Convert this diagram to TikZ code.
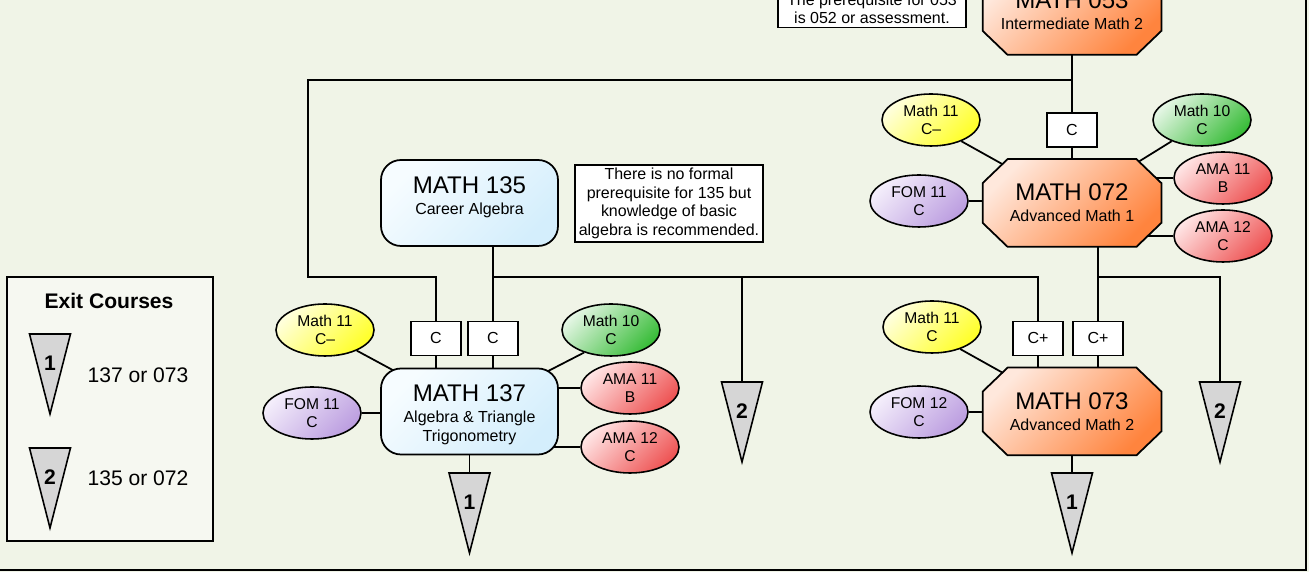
\documentclass[tikz,border=0pt]{standalone}
\usepackage{fontspec}
\setmainfont{Liberation Sans}
\usetikzlibrary{shapes.geometric,calc}
\definecolor{paper}{RGB}{240,244,231}
\definecolor{keyfill}{RGB}{246,248,241}
\definecolor{blueA}{RGB}{246,252,255}
\definecolor{blueB}{RGB}{212,238,252}
\definecolor{orangeA}{RGB}{255,232,220}
\definecolor{orangeB}{RGB}{255,132,62}
\definecolor{yelA}{RGB}{255,255,220}
\definecolor{yelB}{RGB}{255,255,40}
\definecolor{grnA}{RGB}{228,246,228}
\definecolor{grnB}{RGB}{56,188,56}
\definecolor{redA}{RGB}{255,228,228}
\definecolor{redB}{RGB}{238,84,84}
\definecolor{purA}{RGB}{244,238,251}
\definecolor{purB}{RGB}{188,158,224}
\definecolor{exitgray}{RGB}{214,214,214}
\newcommand{\fbig}{\fontsize{13.7}{15}\selectfont}
\newcommand{\fsml}{\fontsize{9.1}{10.8}\selectfont}
\newcommand{\fnote}{\fontsize{9.1}{10.5}\selectfont}
\newcommand{\fell}{\fontsize{8.9}{10.6}\selectfont}
\newcommand{\fkey}{\fontsize{12}{14}\selectfont}
% exit marker: name, top point, number
\newcommand{\exitmark}[3]{%
  \coordinate (#1) at (#2);
  \draw[exitfill] ($(#1)+(-0.41,0)$) -- ($(#1)+(0.41,0)$) -- ($(#1)+(0,-1.6)$) -- cycle;
  \node[exitnum] (#1n) at ($(#1)+(0,-0.58)$) {#3};
}
% octagon outline behind an advanced course node
\newcommand{\octo}[1]{%
  \begin{pgfonlayer}{shapes}
  \draw[advfill] ($(#1.north west)+(0.5,0)$) -- ($(#1.north east)+(-0.5,0)$)
    -- ($(#1.north east)+(0,-0.48)$) -- ($(#1.south east)+(0,0.48)$)
    -- ($(#1.south east)+(-0.5,0)$) -- ($(#1.south west)+(0.5,0)$)
    -- ($(#1.south west)+(0,0.48)$) -- ($(#1.north west)+(0,-0.48)$) -- cycle;
  \end{pgfonlayer}}
\pgfdeclarelayer{paper}
\pgfdeclarelayer{wires}
\pgfdeclarelayer{shapes}
\pgfsetlayers{paper,wires,shapes,main}

\begin{document}
\begin{tikzpicture}[
    wire/.style={line width=1pt},
    course/.style={draw, line width=1pt, minimum width=3.54cm, minimum height=1.72cm, align=center, inner sep=0pt, font=\fsml},
    algbox/.style={course, rounded corners=0.4cm, top color=blueA, bottom color=blueB, shading angle=45},
    advbox/.style={course, draw=none},
    advfill/.style={draw, line width=1pt, top color=orangeA, bottom color=orangeB, shading angle=45},
    prereq/.style={ellipse, draw, line width=0.9pt, minimum width=1.96cm, minimum height=1.04cm, inner sep=0pt, align=center, font=\fell},
    pyel/.style={prereq, top color=yelA, bottom color=yelB, shading angle=45},
    pgrn/.style={prereq, top color=grnA, bottom color=grnB, shading angle=45},
    pred/.style={prereq, top color=redA, bottom color=redB, shading angle=45},
    ppur/.style={prereq, top color=purA, bottom color=purB, shading angle=45},
    grade/.style={draw, fill=white, line width=0.9pt, minimum width=1.0cm, minimum height=0.68cm, inner sep=0pt, font=\fsml},
    note/.style={draw, fill=white, line width=0.9pt, align=center, minimum width=3.76cm, inner sep=2pt, font=\fnote},
    exitfill/.style={draw, fill=exitgray, line width=0.9pt},
    exitnum/.style={font=\fkey\bfseries},
]
\useasboundingbox (0,0) rectangle (26.18,11.44);
\begin{pgfonlayer}{paper}
\fill[paper] (0,0) rectangle (26.18,11.44);
\draw[line width=1.1pt] (-1,0.04) rectangle (26.12,12.5);
\end{pgfonlayer}

% --- Upper right: 053 and 072 ---
\node[note] (pre053) at (17.44,11.26) {The prerequisite for 053\\is 052 or assessment.};
\node[advbox] (m053) at (21.44,11.22) {{\fbig MATH 053}\\[1pt]Intermediate Math 2};
\octo{m053}
\node[grade] (g72) at (21.44,8.84) {C};
\node[advbox] (m072) at (21.44,7.38) {{\fbig MATH 072}\\[1pt]Advanced Math 1};
\octo{m072}
\node[pyel] (e72a) at (18.62,9.04) {Math 11\\C–};
\node[ppur] (e72b) at (18.38,7.42) {FOM 11\\C};
\node[pgrn] (e72c) at (24.04,9.04) {Math 10\\C};
\node[pred] (e72d) at (24.46,7.88) {AMA 11\\B};
\node[pred] (e72e) at (24.46,6.72) {AMA 12\\C};

% --- Middle: 135 ---
\node[algbox] (m135) at (9.39,7.38) {{\fbig MATH 135}\\[1pt]Career Algebra\rule[-8pt]{0pt}{8pt}};
\node[note] (pre135) at (13.38,7.37) {There is no formal\\prerequisite for 135 but\\knowledge of basic\\algebra is recommended.};

% --- Lower left: 137 ---
\node[grade] (g37a) at (8.72,4.67) {C};
\node[grade] (g37b) at (9.86,4.67) {C};
\node[algbox] (m137) at (9.39,3.21) {{\fbig\rule{0pt}{13.5pt}MATH 137}\\[1pt]Algebra \& Triangle\\[0.5pt]Trigonometry};
\node[pyel] (e37a) at (6.50,4.84) {Math 11\\C–};
\node[ppur] (e37b) at (6.24,3.18) {FOM 11\\C};
\node[pgrn] (e37c) at (12.22,4.84) {Math 10\\C};
\node[pred] (e37d) at (12.60,3.68) {AMA 11\\B};
\node[pred] (e37e) at (12.60,2.50) {AMA 12\\C};

% --- Lower right: 073 ---
\node[grade] (g73a) at (20.76,4.67) {C+};
\node[grade] (g73b) at (21.96,4.67) {C+};
\node[advbox] (m073) at (21.44,3.21) {{\fbig MATH 073}\\[1pt]Advanced Math 2};
\octo{m073}
\node[pyel] (e73a) at (18.64,4.90) {Math 11\\C};
\node[ppur] (e73b) at (18.38,3.20) {FOM 12\\C};

% --- Exit markers ---
\exitmark{t37}{9.39,1.98}{1}
\exitmark{t73}{21.44,1.98}{1}
\exitmark{t35}{14.84,3.80}{2}
\exitmark{t72}{24.40,3.80}{2}

% --- Legend ---
\node[draw, fill=keyfill, line width=0.9pt, minimum width=4.12cm, minimum height=5.28cm] (key) at (2.20,3.26) {};
\node[font=\fkey\bfseries] (keyhead) at (2.18,5.42) {Exit Courses};
\exitmark{k1}{1.00,4.76}{1}
\node[font=\fkey] (k1txt) at (2.76,3.94) {137 or 073};
\exitmark{k2}{1.00,2.48}{2}
\node[font=\fkey] (k2txt) at (2.76,1.88) {135 or 072};

% --- Connectors ---
\coordinate (jTop) at (21.44,9.84);
\coordinate (jLeft) at (6.16,5.90);
\coordinate (jMid) at (9.86,5.90);
\coordinate (jRight) at (21.96,5.90);
\begin{pgfonlayer}{wires}
\draw[wire] (m053) -- (g72) -- (m072);
\draw[wire] (jTop) -| (jLeft) -| (g37a);
\draw[wire] (g37a) -- (g37a |- m137.center);
\draw[wire] (g37b |- m135.center) -- (g37b |- m137.center);
\draw[wire] (jMid) -| (g73a);
\draw[wire] (jMid -| t35) -- (t35);
\draw[wire] (g73a) -- (g73a |- m073.center);
\draw[wire] (g73b |- m072.center) -- (g73b |- m073.center);
\draw[wire] (jRight) -| (t72);
\draw[wire] (t37 |- m137.center) -- (t37);
\draw[wire] (t73 |- m073.center) -- (t73);
% prerequisites
\draw[wire] (e72a.-35) -- (m072.center);
\draw[wire] (e72b) -- (e72b -| m072.center);
\draw[wire] (e72c.215) -- (m072.center);
\draw[wire] (e72d) -- (e72d -| m072.center);
\draw[wire] (e72e) -- (e72e -| m072.center);
\draw[wire] (e37a.-33) -- (m137.center);
\draw[wire] (e37b) -- (e37b -| m137.center);
\draw[wire] (e37c.220) -- (m137.center);
\draw[wire] (e37d) -- (e37d -| m137.center);
\draw[wire] (e37e) -- (e37e -| m137.center);
\draw[wire] (e73a.-38) -- (m073.center);
\draw[wire] (e73b) -- (e73b -| m073.center);
\end{pgfonlayer}
\end{tikzpicture}
\end{document}
